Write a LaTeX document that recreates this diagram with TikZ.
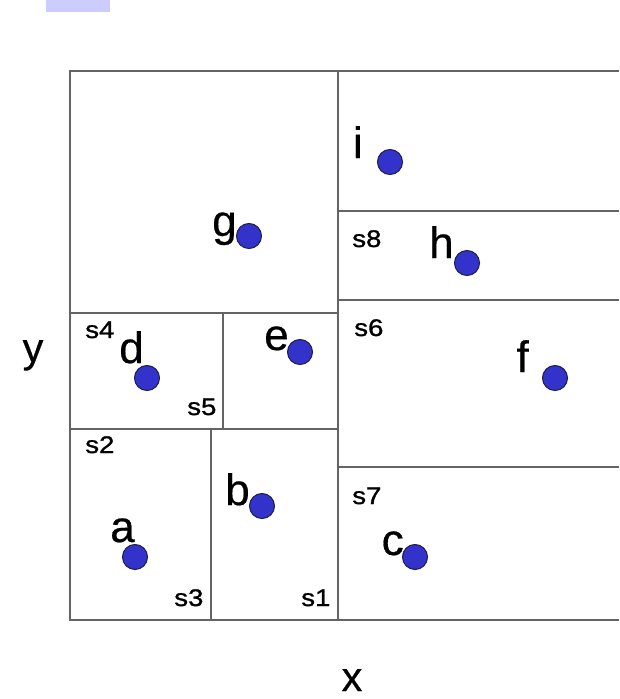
\documentclass[tikz,border=0pt]{standalone}
\usepackage{fontspec}
\setmainfont{Liberation Sans}
\newfontfamily\ptfont[FakeBold=0.5]{Liberation Sans}
\newfontfamily\sfont[FakeBold=1.2,FakeStretch=1.15]{Liberation Sans}

\definecolor{gridline}{RGB}{100,100,100}
\definecolor{ptfill}{RGB}{51,51,204}
\definecolor{ptdraw}{RGB}{30,30,70}
\definecolor{tabfill}{RGB}{204,204,255}

\begin{document}
\begin{tikzpicture}[x=0.75pt,y=0.75pt,yscale=-1,xscale=1,
  cell/.style={draw=gridline,line width=1.4pt},
  pt/.style={circle,fill=ptfill,draw=ptdraw,line width=0.8pt,minimum size=18.75pt,inner sep=0pt},
  ptlbl/.style={anchor=base east,inner sep=0pt,font=\ptfont\fontsize{33}{38}\selectfont},
  slbl/.style={anchor=base west,inner sep=0pt,font=\sfont\fontsize{18}{21}\selectfont},
  axlbl/.style={anchor=base,inner sep=0pt,font=\ptfont\fontsize{31}{36}\selectfont}]
\useasboundingbox (0,0) rectangle (619,699);

%Shape: Rectangle
\fill [tabfill] (46,0) rectangle (110,12.5);

%Straight Lines (outer frame, open on the right)
\draw [cell] (619,71) -- (70,71) -- (70,620) -- (619,620);
%Straight Lines (x split)
\draw [cell] (338,71) -- (338,620);
%Straight Lines (left half)
\draw [cell] (70,313) -- (338,313);
\draw [cell] (70,429) -- (338,429);
\draw [cell] (223,313) -- (223,429);
\draw [cell] (211,429) -- (211,620);
%Straight Lines (right half)
\draw [cell] (338,211) -- (619,211);
\draw [cell] (338,300) -- (619,300);
\draw [cell] (338,467) -- (619,467);

%Shape: Circles
\node [pt] (a) at (135,557) {};
\node [pt] (b) at (262,506) {};
\node [pt] (c) at (415,557) {};
\node [pt] (d) at (147,378) {};
\node [pt] (e) at (300,352) {};
\node [pt] (f) at (555,378) {};
\node [pt] (g) at (249,236) {};
\node [pt] (h) at (467,263) {};
\node [pt] (i) at (390,162) {};

% Text Node
\node [ptlbl] (lbl_a) at (135,542) {a};
\node [ptlbl] (lbl_b) at (250,505) {b};
\node [ptlbl] (lbl_c) at (404,555) {c};
\node [ptlbl] (lbl_d) at (144,363) {d};
\node [ptlbl] (lbl_e) at (289,350) {e};
\node [ptlbl] (lbl_f) at (529,372) {f};
\node [ptlbl] (lbl_g) at (237,236) {g};
\node [ptlbl] (lbl_h) at (454,258) {h};
\node [ptlbl] (lbl_i) at (363,158) {i};

% Text Node
\node [slbl] (s1) at (301,606) {s1};
\node [slbl] (s2) at (85,453) {s2};
\node [slbl] (s3) at (174,606) {s3};
\node [slbl] (s4) at (85,338) {s4};
\node [slbl] (s5) at (187,415) {s5};
\node [slbl] (s6) at (354,336) {s6};
\node [slbl] (s7) at (352,504) {s7};
\node [slbl] (s8) at (352,247) {s8};

% Text Node
\node [axlbl] (xlbl) at (352,691) {x};
\node [axlbl] (ylbl) at (33,362) {y};

\end{tikzpicture}
\end{document}
